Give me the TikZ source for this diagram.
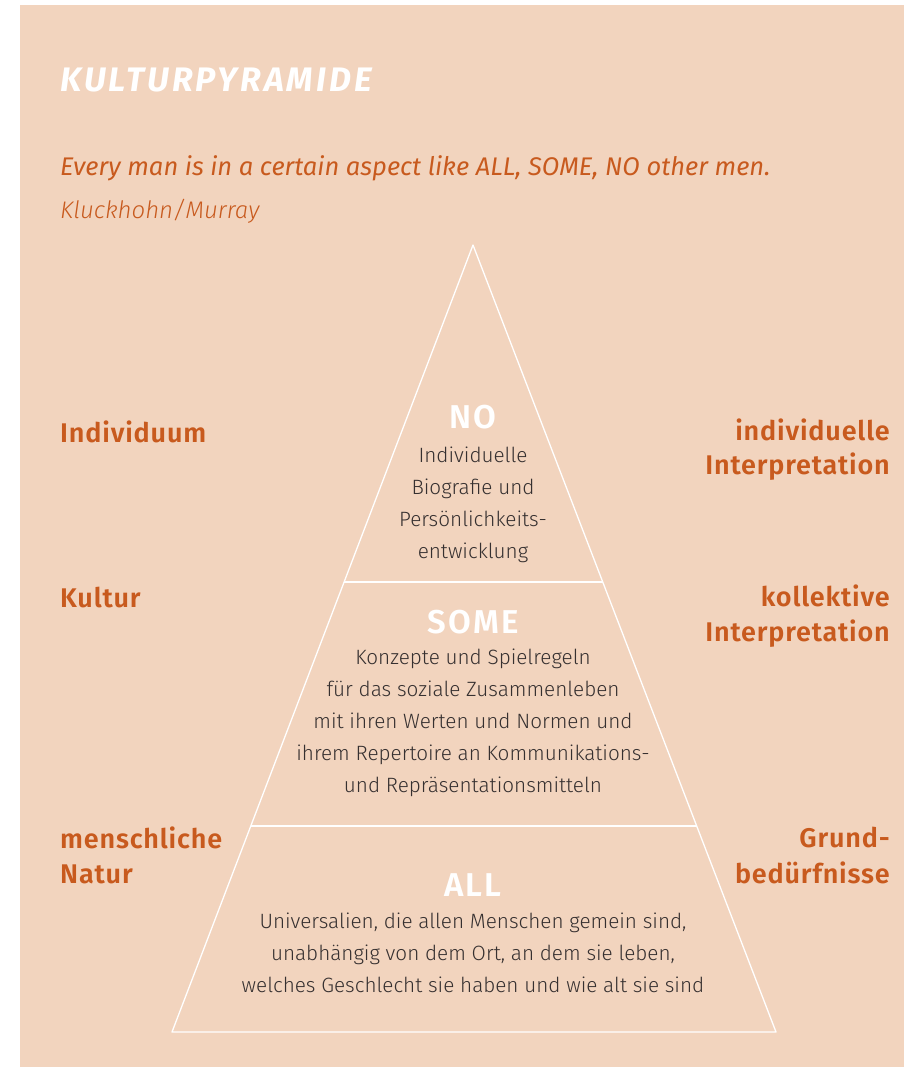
\documentclass[tikz,border=0pt]{standalone}
\usepackage{fontspec}
\setmainfont{Fira Sans}[
  UprightFont=* Light,
  BoldFont=* SemiBold,
  ItalicFont=* Light Italic,
  BoldItalicFont=* Bold Italic]
\newfontfamily\quotefont{Fira Sans}[UprightFont=* Italic]
\usepackage{xcolor}
\usetikzlibrary{calc}

\definecolor{peach}{HTML}{F2D4BE}
\definecolor{rust}{HTML}{C85A1E}
\definecolor{ink}{HTML}{363030}

\tikzset{
  side/.style={text=rust, inner sep=0pt,
    font=\fontsize{27}{30}\selectfont\bfseries\addfontfeatures{LetterSpace=3}},
  level/.style={text=white, inner sep=0pt, anchor=base,
    font=\fontsize{33}{36}\selectfont\bfseries\addfontfeatures{LetterSpace=7}},
  body/.style={text=ink, inner sep=0pt, anchor=base, font=\fontsize{20.7}{32}\selectfont}
}

\begin{document}
\begin{tikzpicture}[x=1pt, y=-1pt]
    % Hintergrund
    \useasboundingbox (0,0) rectangle (904,1067);
    \fill[peach] (20,5) rectangle (904,1067);

    % Titel und Zitat
    \node[anchor=base west, inner sep=0pt, text=white,
      font=\fontsize{34}{38}\selectfont\bfseries\itshape\addfontfeatures{LetterSpace=9}]
      (title) at (60,92) {KULTURPYRAMIDE};
    \node[anchor=base west, inner sep=0pt, text=rust, font=\fontsize{25.5}{30}\selectfont\quotefont]
      (quote) at (60,176) {Every man is in a certain aspect like ALL, SOME, NO other men.};
    \node[anchor=base west, inner sep=0pt, text=rust, font=\fontsize{24}{30}\selectfont\itshape]
      (source) at (60,219) {Kluckhohn/Murray};

    % Pyramide
    \coordinate (apex) at (473,245);
    \coordinate (baseL) at (172,1032);
    \coordinate (baseR) at (776,1032);
    \draw[white, line width=1.3pt, line join=round] (apex) -- (baseL) -- (baseR) -- cycle;
    \draw[white, line width=1.3pt] ($(apex)!0.4282!(baseL)$) -- ($(apex)!0.4282!(baseR)$);
    \draw[white, line width=1.3pt] ($(apex)!0.7383!(baseL)$) -- ($(apex)!0.7383!(baseR)$);

    % Stufen
    \node[level] (no) at (473,428) {NO};
    \foreach \t [count=\i] in {Individuelle, Biografie und, Persönlichkeits-, entwicklung}
        \node[body] (no-\i) at (473,{430+32*\i}) {\t};

    \node[level] (some) at (473,633) {SOME};
    \foreach \t [count=\i] in {Konzepte und Spielregeln, für das soziale Zusammenleben,
        mit ihren Werten und Normen und, ihrem Repertoire an Kommunikations-,
        und Repräsentationsmitteln}
        \node[body] (some-\i) at (473,{632+32*\i}) {\t};

    \node[level] (all) at (473,896) {ALL};
    \foreach \t [count=\i] in {{Universalien, die allen Menschen gemein sind,},
        {unabhängig von dem Ort, an dem sie leben,},
        welches Geschlecht sie haben und wie alt sie sind}
        \node[body] (all-\i) at (473,{896+32*\i}) {\t};

    % Beschriftung links
    \node[side, anchor=base west] (individuum) at (60,442) {Individuum};
    \node[side, anchor=base west] (kultur) at (60,607) {Kultur};
    \node[side, anchor=base west] (natur1) at (60,848) {menschliche};
    \node[side, anchor=base west] (natur2) at (60,883) {Natur};

    % Beschriftung rechts
    \node[side, anchor=base east] (indint1) at (890,440) {individuelle};
    \node[side, anchor=base east] (indint2) at (890,474) {Interpretation};
    \node[side, anchor=base east] (kolint1) at (890,606) {kollektive};
    \node[side, anchor=base east] (kolint2) at (890,641) {Interpretation};
    \node[side, anchor=base east] (grund1) at (890,847) {Grund-};
    \node[side, anchor=base east] (grund2) at (890,883) {bedürfnisse};
\end{tikzpicture}
\end{document}
